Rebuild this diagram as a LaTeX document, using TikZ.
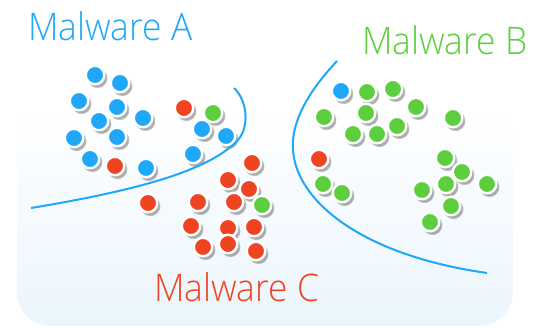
\documentclass[tikz,border=0pt]{standalone}
\usepackage{fontspec}
\setmainfont{Open Sans Light}
\usetikzlibrary{shadows}
\definecolor{mwblue}{HTML}{1FA8F7}
\definecolor{mwgreen}{HTML}{5DCF3E}
\definecolor{mwred}{HTML}{EE4421}
\definecolor{panelbot}{HTML}{EBF5FD}
\definecolor{paneltop}{HTML}{FFFFFF}
\tikzset{
  dot/.style={circle, draw=white, line width=2.4pt, minimum size=18.5pt, inner sep=0pt,
    circular drop shadow={shadow scale=1.12, shadow xshift=2pt, shadow yshift=-2.6pt,
      opacity=0.45, fill=black!70}},
  adot/.style={dot, fill=mwblue},
  bdot/.style={dot, fill=mwgreen},
  cdot/.style={dot, fill=mwred},
  boundary/.style={draw=mwblue, line width=2pt},
  label/.style={font=\fontsize{38}{38}\selectfont, anchor=base west, inner sep=0pt, xscale=0.93}
}
\begin{document}
\begin{tikzpicture}[x=1pt, y=-1pt]
\useasboundingbox (0,0) rectangle (547,328);
% background panel
\shade[top color=paneltop, bottom color=panelbot, rounded corners=34pt]
  (17,103) rectangle (513,326);

% cluster A
\foreach \n/\x/\y in {1/95/75, 2/120/83, 3/79/101, 4/117/107, 5/143/118, 6/99/121,
    7/74/138, 8/117/137, 9/90/159, 10/146/168, 11/202/129, 12/226/136, 13/193/154}
  \node[adot] (a\n) at (\x,\y) {};

% cluster B
\node[adot] (b0) at (341,91) {};
\foreach \n/\x/\y in {1/367/92, 2/393/89, 3/416/107, 4/324/117, 5/366/113, 6/397/126,
    7/353/134, 8/377/134, 9/453/118, 10/445/158, 11/462/172, 12/446/184, 13/487/184,
    14/422/190, 15/451/206, 16/430/222, 17/323/184, 18/342/193}
  \node[bdot] (b\n) at (\x,\y) {};
\node[cdot] (bx) at (319,159) {};

% cluster C
\foreach \n/\x/\y in {1/115/166, 2/184/108, 3/252/163, 4/228/180, 5/249/189, 6/148/203,
    7/198/202, 8/234/202, 9/191/226, 10/228/228, 11/254/227, 12/203/247, 13/228/244, 14/256/251}
  \node[cdot] (c\n) at (\x,\y) {};
\node[bdot] (cx1) at (213,113) {};
\node[bdot] (cx2) at (262,205) {};

% decision boundaries
\draw[boundary] (31,208) .. controls (140,190) and (210,170) .. (238,140)
  .. controls (250,126) and (247,100) .. (234,88);
\draw[boundary] (337,61) .. controls (305,95) and (291,125) .. (293,150)
  .. controls (296,200) and (360,255) .. (487,273);

% class labels
\node[label, text=mwblue] (la) at (28,41) {Malware A};
\node[label, text=mwgreen] (lb) at (362,55) {Malware B};
\node[label, text=mwred] (lc) at (154,302) {Malware C};
\end{tikzpicture}
\end{document}
